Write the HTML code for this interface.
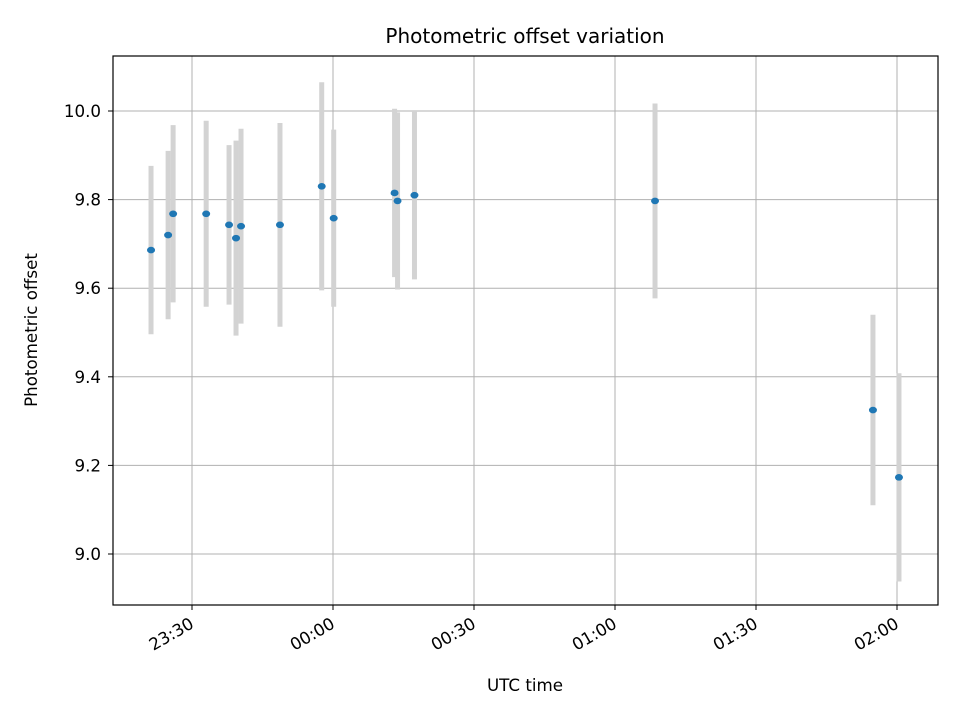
<!DOCTYPE html>
<html><head><meta charset="utf-8"><style>
body{margin:0;background:#fff;}
svg{font-family:"DejaVu Sans","Liberation Sans",sans-serif;}
</style></head><body>
<svg id="chart" width="960" height="720" viewBox="0 0 960 720">
<rect x="0" y="0" width="960" height="720" fill="#fff"/>
<text x="525" y="43" font-size="20" text-anchor="middle">Photometric offset variation</text>
<g id="grid"></g><g id="bars"></g><g id="pts"></g><g id="ticks"></g>
<rect x="113" y="56" width="825" height="549" fill="none" stroke="#000" stroke-width="1.2"/>
<text x="525" y="691" font-size="16.7" text-anchor="middle">UTC time</text>
<text transform="translate(37,330) rotate(-90)" font-size="16.7" text-anchor="middle">Photometric offset</text>
</svg>
<script>
const times=["23:21:17","23:24:55","23:25:59","23:33:01","23:37:53","23:39:22","23:40:26","23:48:43","23:57:36","00:00:09","00:13:06","00:13:44","00:17:20","01:08:31","01:54:53","02:00:25"];
const values=[9.686,9.72,9.768,9.768,9.743,9.713,9.74,9.743,9.83,9.758,9.815,9.797,9.81,9.797,9.325,9.173];
const errLow=[0.19,0.19,0.20,0.21,0.18,0.22,0.22,0.23,0.235,0.20,0.19,0.20,0.19,0.22,0.215,0.235];
const errHigh=[0.19,0.19,0.20,0.21,0.18,0.22,0.22,0.23,0.235,0.20,0.19,0.20,0.19,0.22,0.215,0.235];
const yTicks=[9.0,9.2,9.4,9.6,9.8,10.0];
const xTickLabels=["23:30","00:00","00:30","01:00","01:30","02:00"];
const NS="http://www.w3.org/2000/svg";
function mins(t){const p=t.split(":").map(Number);let m=p[0]*60+p[1]+(p[2]||0)/60;if(p[0]<12)m+=1440;return m-(23*60+30);}
function xs(t){return 192+mins(t)*4.7;}
function ys(v){return 554-(v-9)*443;}
function mk(tag,attrs,parent){const e=document.createElementNS(NS,tag);for(const k in attrs)e.setAttribute(k,attrs[k]);document.getElementById(parent).appendChild(e);return e;}
yTicks.forEach(v=>{const y=ys(v);
 let g=mk("line",{x1:113,x2:938,y1:y,y2:y,stroke:"#b0b0b0","stroke-width":1},"grid");
 
 
 let t=mk("line",{x1:108,x2:113,y1:y,y2:y,stroke:"#000"},"ticks");
 
 
 let l=mk("text",{x:101,y:y+6,"font-size":16.7,"text-anchor":"end"},"ticks");l.textContent=v.toFixed(1);
 
 
});
xTickLabels.forEach(s=>{const x=xs(s);
 let g=mk("line",{x1:x,x2:x,y1:56,y2:605,stroke:"#b0b0b0","stroke-width":1},"grid");
 
 
 let t=mk("line",{x1:x,x2:x,y1:605,y2:610,stroke:"#000"},"ticks");
 
 
 let l=mk("text",{transform:`translate(${x+3},${627}) rotate(-30)`,"font-size":16.7,"text-anchor":"end"},"ticks");l.textContent=s;
 
 
});
times.forEach((t,i)=>{const x=xs(t);
 let b=mk("line",{x1:x,x2:x,y1:ys(values[i]+errHigh[i]),y2:ys(values[i]-errLow[i]),stroke:"#d3d3d3","stroke-width":5},"bars");
 
 
 let p=mk("ellipse",{cx:x,cy:ys(values[i]),rx:4,ry:3.3,fill:"#1f77b4"},"pts");
 
 
});
</script>
</body></html>
